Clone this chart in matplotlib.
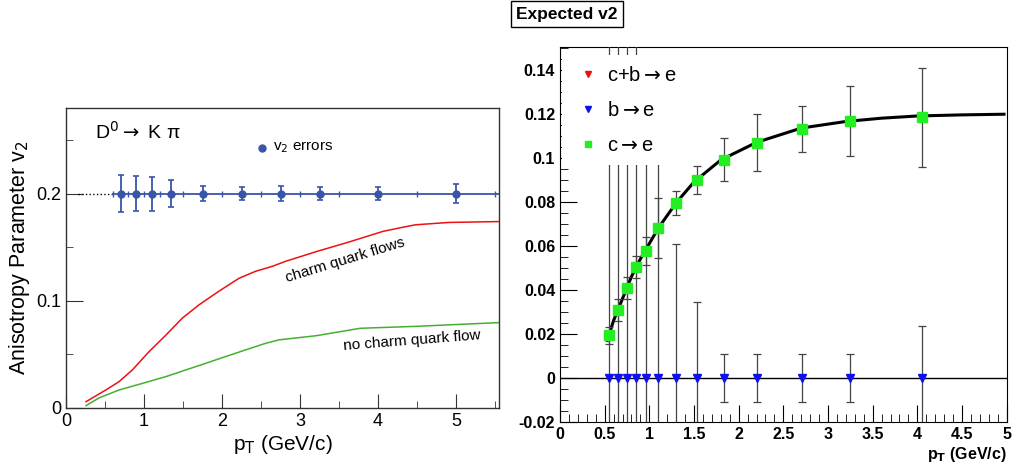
import numpy as np
import matplotlib
matplotlib.use("Agg")
import matplotlib.pyplot as plt
from matplotlib.ticker import MultipleLocator
from matplotlib.patches import Rectangle
from matplotlib.lines import Line2D

plt.rcParams['font.family'] = ['Liberation Sans', 'DejaVu Sans']

# ---- left panel data: D0 -> K pi ----
d_pt = [0.7, 0.9, 1.1, 1.35, 1.75, 2.25, 2.75, 3.25, 4.0, 5.0]
d_v2 = [0.2] * 10
d_err = [0.0175, 0.0165, 0.016, 0.0128, 0.007, 0.006, 0.007, 0.006, 0.006, 0.009]
bin_edges = [0.6, 0.8, 1.0, 1.2, 1.5, 2.0, 2.5, 3.0, 3.5, 4.5, 5.5]

charm_pt = [0.256, 0.51, 0.68, 0.85, 1.066, 1.28, 1.49, 1.705, 1.96, 2.216, 2.43, 2.64,
            2.81, 3.21, 3.63, 4.06, 4.27, 4.48, 4.91, 5.55]
charm_v2 = [0.0059, 0.0168, 0.0246, 0.0355, 0.0527, 0.068, 0.0838, 0.0963, 0.109, 0.121,
            0.1276, 0.1321, 0.1368, 0.146, 0.155, 0.1648, 0.168, 0.171, 0.1732, 0.174]
nocharm_pt = [0.256, 0.426, 0.68, 0.98, 1.28, 1.535, 1.79, 2.046, 2.3, 2.56, 2.73,
              3.21, 3.77, 4.48, 5.55]
nocharm_v2 = [0.0022, 0.0095, 0.0168, 0.023, 0.0293, 0.0355, 0.0417, 0.048, 0.0542,
              0.0604, 0.0636, 0.0675, 0.0744, 0.0762, 0.0797]

# ---- right panel data: expected v2 ----
e_pt = [0.552, 0.653, 0.754, 0.854, 0.959, 1.093, 1.30, 1.53, 1.84, 2.205, 2.71, 3.246, 4.056]
c_v2 = [0.0192, 0.0306, 0.0409, 0.0505, 0.0577, 0.0679, 0.0795, 0.0898, 0.0991, 0.1068, 0.1132, 0.1168, 0.1185]
c_err = [0.004, 0.005, 0.005, 0.005, 0.0064, 0.0136, 0.0055, 0.0064, 0.0097, 0.013, 0.0105, 0.0158, 0.0225]
b_v2 = [0.0] * 13
b_err = [0.2, 0.2, 0.2, 0.2, 0.12, 0.11, 0.061, 0.0345, 0.011, 0.011, 0.011, 0.011, 0.0235]

fit_pt = [0.53, 0.6, 0.7, 0.8, 0.9, 1.0, 1.1, 1.3, 1.5, 1.8, 2.2, 2.7, 3.2, 3.6, 4.0, 4.5, 4.97]
fit_v2 = [0.017, 0.026, 0.036, 0.046, 0.054, 0.061, 0.068, 0.0795, 0.089, 0.099,
          0.107, 0.1135, 0.1165, 0.118, 0.119, 0.1195, 0.1198]

legend_labels = ['c+b$\\rightarrow$e', 'b$\\rightarrow$e', 'c$\\rightarrow$e']
legend_colors = ['#ee1111', '#1010ee', '#22ee22']
legend_markers = ['v', 'v', 's']

W, H = 1013, 466
fig = plt.figure(figsize=(W / 100, H / 100), dpi=100)

# ================= left panel =================
ax1 = fig.add_axes([66 / W, (H - 408) / H, 433 / W, 300 / H])
ax1.set_xlim(0, 5.55)
ax1.set_ylim(0, 0.28)
for s in ax1.spines.values():
    s.set_color('#333333')
    s.set_linewidth(1.0)

blue = '#3a55a8'
ax1.plot([0.15, 0.6], [0.2, 0.2], color='black', ls=':', lw=1)
ax1.plot([0.6, 5.55], [0.2, 0.2], color=blue, lw=1.3)
ax1.plot(bin_edges, [0.2] * len(bin_edges), ls='none', marker='|', ms=5, color=blue, mew=1)
ax1.errorbar(d_pt, d_v2, yerr=d_err, fmt='o', ms=5, color=blue, ecolor=blue,
             elinewidth=1.3, capsize=2.5, capthick=1.2)

ax1.plot(charm_pt, charm_v2, color='#ee1111', lw=1.1)
ax1.plot(nocharm_pt, nocharm_v2, color='#44b030', lw=1.1)

ax1.text(3.58, 0.138, 'charm quark flows', rotation=17, fontsize=11,
         ha='center', va='center')
ax1.text(4.44, 0.063, 'no charm quark flow', rotation=4.5, fontsize=11,
         ha='center', va='center')
ax1.text(0.37, 0.258, 'D$^{0}$$\\rightarrow$ K π', fontsize=14, ha='left', va='center')
ax1.plot([2.51], [0.243], 'o', ms=5, color=blue)
ax1.text(2.65, 0.243, r'v$_{2}$ errors', fontsize=11, ha='left', va='center')

ax1.xaxis.set_major_locator(MultipleLocator(1))
ax1.xaxis.set_minor_locator(MultipleLocator(0.5))
ax1.set_yticks([0, 0.1, 0.2])
ax1.set_yticklabels(['0', '0.1', '0.2'])
ax1.yaxis.set_minor_locator(MultipleLocator(0.05))
ax1.tick_params(axis='both', which='major', direction='in', labelsize=13,
                color='#333333', top=False, right=False)
ax1.tick_params(axis='x', which='major', length=10)
ax1.tick_params(axis='y', which='major', length=12)
ax1.tick_params(axis='both', which='minor', direction='in', length=5, color='#333333')
ax1.set_xlabel(r'p$_{\rm T}$ (GeV/c)', fontsize=15, labelpad=2)
ax1.set_ylabel(r'Anisotropy Parameter v$_{2}$', fontsize=15.5, labelpad=3)

# ================= right panel =================
ax2 = fig.add_axes([560 / W, (H - 421.7) / H, 446.7 / W, 375 / H])
ax2.set_xlim(0, 5)
ax2.set_ylim(-0.02, 0.1505)

ax2.axhline(0, color='black', lw=1)
ax2.errorbar(e_pt, b_v2, yerr=b_err, fmt='v', ms=6, color=legend_colors[1], ecolor='#444444',
             elinewidth=0.9, capsize=3, capthick=0.9, zorder=3)
ax2.plot(fit_pt, fit_v2, color='black', lw=2.2, zorder=4)
ax2.errorbar(e_pt, c_v2, yerr=c_err, fmt='s', ms=6.5, color=legend_colors[2], ecolor='#444444',
             elinewidth=0.9, capsize=3, capthick=0.9, zorder=5)

# white legend pad hiding the error bars behind the entries
ax2.add_patch(Rectangle((0.02, 0.0968), 1.2, 0.0497, facecolor='white',
                        edgecolor='none', zorder=6))

handles = [Line2D([], [], ls='none', marker=m, color=c, ms=5)
           for m, c in zip(legend_markers, legend_colors)]
leg = ax2.legend(handles, legend_labels, loc='upper left', bbox_to_anchor=(0.01, 0.975),
                 frameon=False, fontsize=14.5, handletextpad=0.3, labelspacing=0.78,
                 borderpad=0.0, handlelength=1.3)
leg.set_zorder(7)

ax2.set_yticks(np.arange(-0.02, 0.141, 0.02))
ax2.set_yticklabels(['-0.02', '0', '0.02', '0.04', '0.06', '0.08', '0.1', '0.12', '0.14'])
ax2.yaxis.set_minor_locator(MultipleLocator(0.005))
ax2.set_xticks(np.arange(0, 5.01, 0.5))
ax2.set_xticklabels(['0', '0.5', '1', '1.5', '2', '2.5', '3', '3.5', '4', '4.5', '5'])
ax2.xaxis.set_minor_locator(MultipleLocator(0.1))
ax2.tick_params(axis='both', which='major', direction='in', length=12, labelsize=11.5,
                top=False, right=False)
ax2.tick_params(axis='both', which='minor', direction='in', length=6, top=False, right=False)
for lab in ax2.get_xticklabels() + ax2.get_yticklabels():
    lab.set_fontweight('bold')
ax2.text(1.0, -0.062, r'p$_{\mathbf{T}}$ (GeV/c)', transform=ax2.transAxes, ha='right',
         va='top', fontsize=11.5, fontweight='bold')

fig.text(516 / W, 1 - 14 / H, 'Expected v2', fontsize=12.5, fontweight='bold',
         ha='left', va='center',
         bbox=dict(boxstyle='square,pad=0.3', facecolor='white', edgecolor='black', lw=1))

fig.savefig('out.png', dpi=100)
